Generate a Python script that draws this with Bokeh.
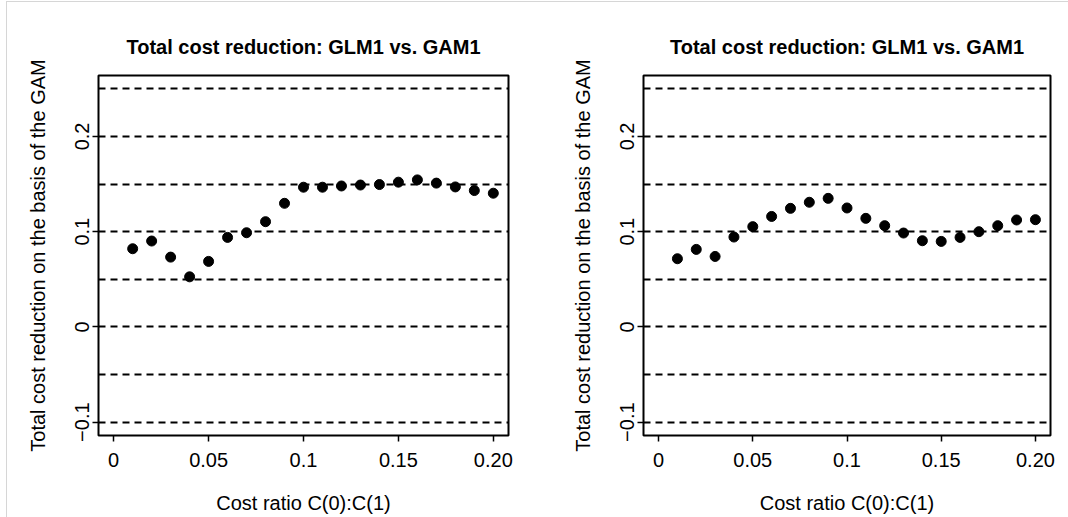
from bokeh.plotting import figure
from bokeh.layouts import row
from bokeh.models import Range1d, FixedTicker, Title
from bokeh.embed import file_html
from bokeh.resources import INLINE

# ---- data ----
cost_ratio = [0.01, 0.02, 0.03, 0.04, 0.05, 0.06, 0.07, 0.08, 0.09, 0.10,
              0.11, 0.12, 0.13, 0.14, 0.15, 0.16, 0.17, 0.18, 0.19, 0.20]
reduction_left = [0.0821, 0.0902, 0.0733, 0.0526, 0.0688, 0.0940, 0.0989, 0.1105, 0.1298, 0.1467,
                  0.1467, 0.1480, 0.1490, 0.1495, 0.1520, 0.1544, 0.1510, 0.1470, 0.1432, 0.1404]
reduction_right = [0.0716, 0.0814, 0.0740, 0.0944, 0.1053, 0.1160, 0.1245, 0.1309, 0.1350, 0.1249,
                   0.1140, 0.1063, 0.0986, 0.0905, 0.0898, 0.0940, 0.1000, 0.1063, 0.1123, 0.1126]
ref_levels = [-0.1, -0.05, 0.0, 0.05, 0.1, 0.15, 0.2, 0.25]
x_ticks = [0.0, 0.05, 0.1, 0.15, 0.2]
x_tick_labels = ["0", "0.05", "0.1", "0.15", "0.20"]
y_ticks = [-0.1, 0.0, 0.1, 0.2]
y_tick_labels = ["\u22120.1", "0", "0.1", "0.2"]
title_text = "Total cost reduction: GLM1 vs. GAM1"
x_label = "Cost ratio C(0):C(1)"
y_label = "Total cost reduction on the basis of the GAM"

FONT = "Liberation Sans"
FS = "20px"


def make_panel(yvals, width, border_left, border_right):
    p = figure(width=width, height=516, output_backend="svg", toolbar_location=None,
               x_range=Range1d(-0.008, 0.208), y_range=Range1d(-0.114, 0.264),
               min_border_left=border_left, min_border_right=border_right,
               min_border_top=73, min_border_bottom=83)
    p.xgrid.visible = False
    p.ygrid.visible = False
    p.background_fill_color = "white"
    p.border_fill_color = "white"
    p.outline_line_color = "black"
    p.outline_line_width = 2

    t = Title(text=title_text, align="center", text_font=FONT, text_font_size=FS,
              text_font_style="bold", text_color="black", standoff=36)
    p.add_layout(t, "above")

    p.hspan(y=ref_levels, line_color="black", line_width=2, line_dash="7 5")
    p.scatter(cost_ratio, yvals, size=10, color="black", marker="circle")

    for ax in (p.xaxis[0], p.yaxis[0]):
        ax.axis_line_color = None
        ax.major_tick_line_color = "black"
        ax.major_tick_line_width = 1.5
        ax.major_tick_out = 6
        ax.major_tick_in = 0
        ax.minor_tick_line_color = None
        ax.major_label_text_font = FONT
        ax.major_label_text_font_size = FS
        ax.major_label_text_color = "black"
        ax.axis_label_text_font = FONT
        ax.axis_label_text_font_size = FS
        ax.axis_label_text_font_style = "normal"
        ax.axis_label_text_color = "black"

    p.xaxis.ticker = FixedTicker(ticks=x_ticks)
    p.xaxis.major_label_overrides = dict(zip(x_ticks, x_tick_labels))
    p.xaxis.axis_label = x_label
    p.xaxis.major_label_standoff = 11
    p.xaxis.axis_label_standoff = 22

    p.yaxis.ticker = FixedTicker(ticks=y_ticks)
    p.yaxis.major_label_overrides = dict(zip(y_ticks, y_tick_labels))
    p.yaxis.major_label_orientation = "vertical"
    p.yaxis.axis_label = y_label
    p.yaxis.major_label_standoff = 3
    p.yaxis.axis_label_standoff = 24
    return p


p1 = make_panel(reduction_left, 527, 91, 26)
p2 = make_panel(reduction_right, 534, 109, 18)
layout = row(p1, p2, styles={"border-left": "1px solid #d6d6d6",
                             "border-top": "1px solid #d6d6d6",
                             "margin-left": "6px", "margin-top": "1px"})

open("out.html", "w").write(file_html(layout, INLINE))
